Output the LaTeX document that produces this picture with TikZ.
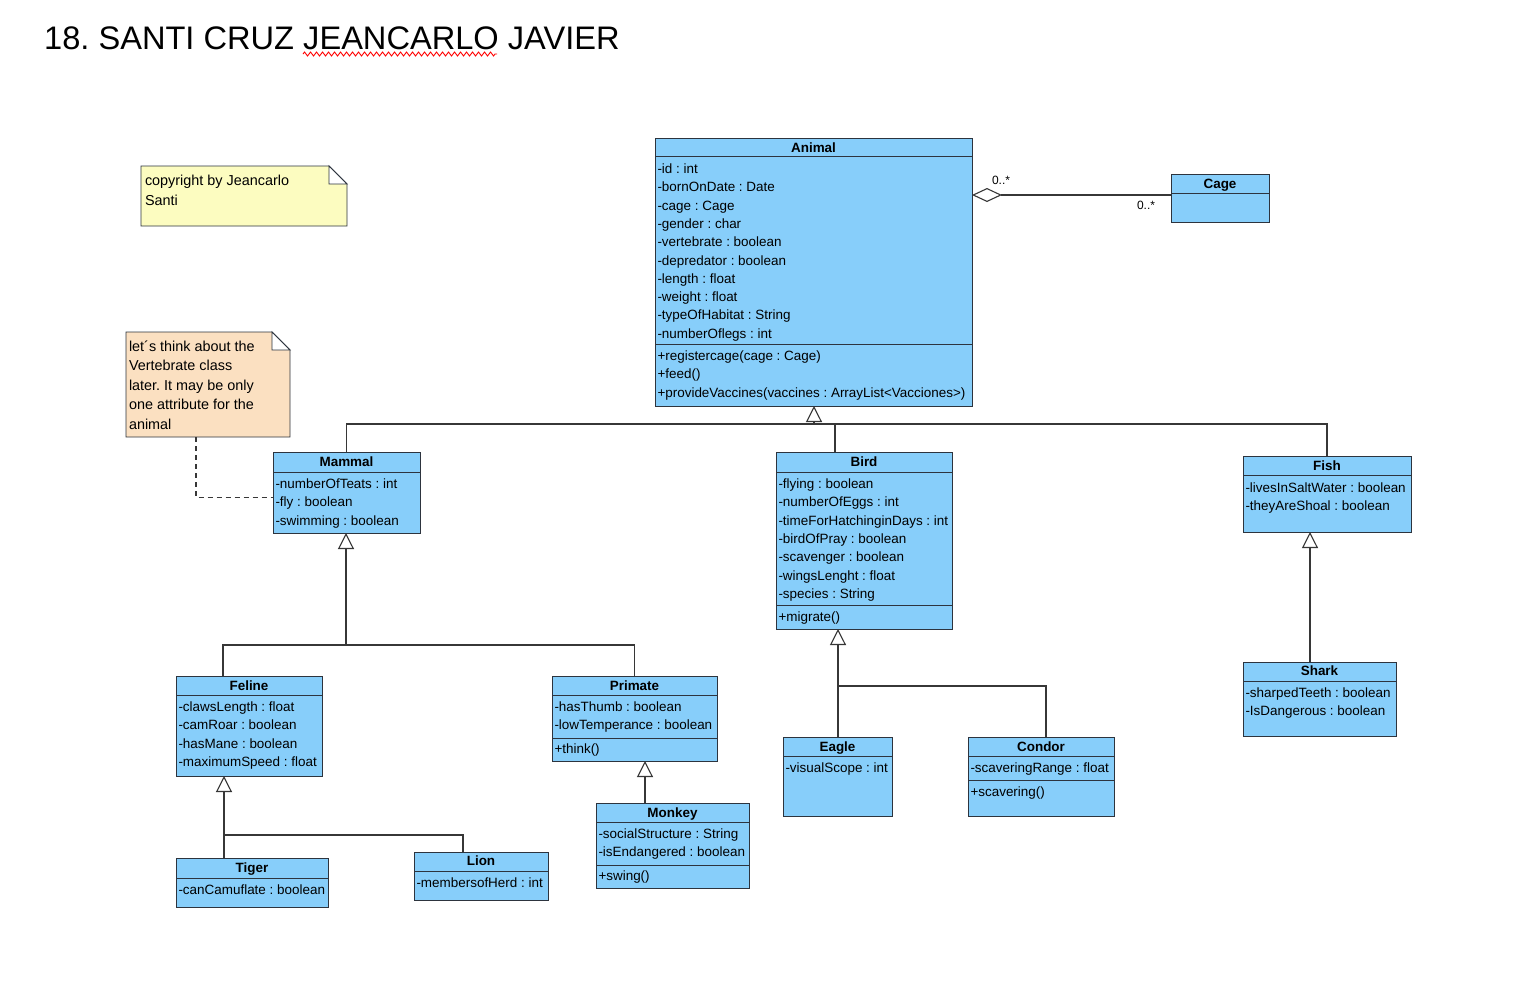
\documentclass[tikz,border=0pt]{standalone}
\usepackage{fontspec}
\setmainfont{Liberation Sans}
\usetikzlibrary{arrows.meta,decorations.pathmorphing}
\frenchspacing
\definecolor{clsfill}{RGB}{135,206,250}
\definecolor{linec}{RGB}{45,52,62}
\definecolor{connc}{RGB}{55,55,55}
\definecolor{noteyellow}{RGB}{252,252,192}
\definecolor{notepeach}{RGB}{251,224,193}
\tikzset{
  cls/.style={draw=linec, fill=clsfill, line width=0.9pt, anchor=north west, inner sep=0pt, outer sep=0pt},
  sepline/.style={draw=linec, line width=0.9pt},
  txt/.style={inner sep=0pt, outer sep=0pt, anchor=base west, font=\fontsize{13.45}{15}\selectfont},
  ttl/.style={inner sep=0pt, outer sep=0pt, anchor=base, font=\bfseries\fontsize{13.45}{15}\selectfont},
  notetxt/.style={inner sep=0pt, outer sep=0pt, anchor=base west, font=\fontsize{14.4}{16}\selectfont},
  mult/.style={inner sep=0pt, outer sep=0pt, font=\fontsize{12}{14}\selectfont},
  conn/.style={draw=connc, line width=1.1pt},
  gen/.style={draw=connc, line width=1.1pt, -{Triangle[open, length=16pt, width=16pt, fill=white]}},
  agg/.style={draw=connc, line width=1.1pt, -{Diamond[open, length=30pt, width=14pt, fill=white]}},
  notelink/.style={draw=connc, line width=1.1pt, dashed, dash pattern=on 5pt off 4pt},
}
\newcommand{\umlclass}[8]{%
  \node[cls, minimum width={#4-#2}, minimum height={#5-#3}] (#1) at (#2,#3) {};
  \draw[sepline] (#2,#7) -- (#4,#7);
  \node[ttl] (#1-t) at ({(#2+#4)/2},{#8+4.7}) {#6};
}
\newcommand{\umllines}[4]{%
  \foreach \t [count=\i] in {#4} {\node[txt] (#1-\i) at ({#2+2.5},{#3+4.5+(\i-1)*18.3}) {\t};}
}
\newcommand{\umlnote}[6]{%
  \node[inner sep=0pt, outer sep=0pt, anchor=north west, minimum width={#4-#2}, minimum height={#5-#3}] (#1) at (#2,#3) {};
  \filldraw[draw=linec, fill=#6, line width=0.9pt] (#1.north west) -- ([xshift=-18pt]#1.north east) -- ([yshift=-18pt]#1.north east) -- (#1.south east) -- (#1.south west) -- cycle;
  \filldraw[draw=linec, fill=white, line width=0.9pt] ([xshift=-18pt]#1.north east) -- ([xshift=-18pt,yshift=-18pt]#1.north east) -- ([yshift=-18pt]#1.north east) -- cycle;
}
\begin{document}
\begin{tikzpicture}[x=1pt,y=-1pt]
\fill[white] (0,0) rectangle (1527,1002);
\useasboundingbox (0,0) rectangle (1527,1002);

% title
\node[anchor=base west, inner sep=0pt, font=\fontsize{32.6}{40}\selectfont] (title) at (44,49) {18. SANTI CRUZ JEANCARLO JAVIER};
\draw[red, line width=0.9pt, decorate, decoration={zigzag, segment length=6pt, amplitude=2pt}] (303,54) -- (497,54);

% notes
\umlnote{note1}{141}{166}{347}{226}{noteyellow}
\node[notetxt] (note1-1) at (145,185) {copyright by Jeancarlo};
\node[notetxt] (note1-2) at (145,205) {Santi};

\umlnote{note2}{126}{332}{290}{437}{notepeach}
\foreach \t [count=\i] in {let´s think about the, Vertebrate class, later. It may be only, one attribute for the, animal}
  {\node[notetxt] (note2-\i) at (129,{351+(\i-1)*19.5}) {\t};}

% classes
\umlclass{animal}{655}{138}{972}{406}{Animal}{156}{148}
\draw[sepline] (655,344) -- (972,344);
\umllines{animal-a}{655}{169}{-id : int, -bornOnDate : Date, -cage : Cage, -gender : char, -vertebrate : boolean, -depredator : boolean, -length : float, -weight : float, -typeOfHabitat : String, -numberOflegs : int}
\umllines{animal-m}{655}{356}{+registercage(cage : Cage), +feed(), +provideVaccines(vaccines : ArrayList<Vacciones>)}

\umlclass{cage}{1171}{174}{1269}{222}{Cage}{193}{184}

\umlclass{mammal}{273}{452}{420}{533}{Mammal}{472}{462}
\umllines{mammal-a}{273}{484}{-numberOfTeats : int, -fly : boolean, -swimming : boolean}

\umlclass{bird}{776}{452}{952}{629}{Bird}{472}{462}
\draw[sepline] (776,605) -- (952,605);
\umllines{bird-a}{776}{484}{-flying : boolean, -numberOfEggs : int, -timeForHatchinginDays : int, -birdOfPray : boolean, -scavenger : boolean, -wingsLenght : float, -species : String}
\umllines{bird-m}{776}{617}{+migrate()}

\umlclass{fish}{1243}{456}{1411}{532}{Fish}{475}{466}
\umllines{fish-a}{1243}{488}{-livesInSaltWater : boolean, -theyAreShoal : boolean}

\umlclass{feline}{176}{676}{322}{776}{Feline}{695}{686}
\umllines{feline-a}{176}{707}{-clawsLength : float, -camRoar : boolean, -hasMane : boolean, -maximumSpeed : float}

\umlclass{primate}{552}{676}{717}{761}{Primate}{695}{686}
\draw[sepline] (552,738) -- (717,738);
\umllines{primate-a}{552}{707}{-hasThumb : boolean, -lowTemperance : boolean}
\umllines{primate-m}{552}{749}{+think()}

\umlclass{monkey}{596}{803}{749}{888}{Monkey}{822}{813}
\draw[sepline] (596,865) -- (749,865);
\umllines{monkey-a}{596}{834}{-socialStructure : String, -isEndangered : boolean}
\umllines{monkey-m}{596}{876}{+swing()}

\umlclass{tiger}{176}{858}{328}{907}{Tiger}{878}{868}
\umllines{tiger-a}{176}{890}{-canCamuflate : boolean}

\umlclass{lion}{414}{852}{548}{900}{Lion}{871}{861}
\umllines{lion-a}{414}{883}{-membersofHerd : int}

\umlclass{eagle}{783}{737}{892}{816}{Eagle}{756}{747}
\umllines{eagle-a}{783}{768}{-visualScope : int}

\umlclass{condor}{968}{737}{1114}{816}{Condor}{756}{747}
\draw[sepline] (968,780) -- (1114,780);
\umllines{condor-a}{968}{768}{-scaveringRange : float}
\umllines{condor-m}{968}{792}{+scavering()}

\umlclass{shark}{1243}{662}{1396}{736}{Shark}{681}{671}
\umllines{shark-a}{1243}{693}{-sharpedTeeth : boolean, -IsDangerous : boolean}

% aggregation Animal - Cage
\coordinate (ag) at ([yshift=3pt]cage.west);
\draw[agg] (ag) -- (animal.east |- ag);
\node[mult] (mult-a) at (1001,180) {0..*};
\node[mult] (mult-c) at (1146,205) {0..*};

% generalizations to Animal
\coordinate (j1) at (814,424);
\draw[conn] (mammal.north) |- (j1);
\draw[conn] (fish.north) |- (j1);
\draw[conn] ([xshift=59pt]bird.north west) |- (j1);
\draw[gen] (j1) -- (j1 |- animal.south);

% to Mammal
\coordinate (j2) at (346,645);
\draw[conn] ([xshift=47pt]feline.north west) |- (j2);
\draw[conn] (primate.north) |- (j2);
\draw[gen] (j2) -- (j2 |- mammal.south);

% to Feline
\coordinate (j3) at (224,835);
\draw[conn] (tiger.north -| j3) -- (j3);
\draw[conn] ([xshift=49pt]lion.north west) |- (j3);
\draw[gen] (j3) -- (j3 |- feline.south);

% to Primate
\draw[gen] ([xshift=49pt]monkey.north west) coordinate (m1) -- (m1 |- primate.south);

% to Bird
\coordinate (j4) at (838,686);
\draw[conn] (eagle.north -| j4) -- (j4);
\draw[conn] ([xshift=78pt]condor.north west) |- (j4);
\draw[gen] (j4) -- (j4 |- bird.south);

% to Fish
\draw[gen] ([xshift=67pt]shark.north west) coordinate (s1) -- (s1 |- fish.south);

% note link
\draw[notelink] ([xshift=70pt]note2.south west) |- ([yshift=-5pt]mammal.west);
\end{tikzpicture}
\end{document}
